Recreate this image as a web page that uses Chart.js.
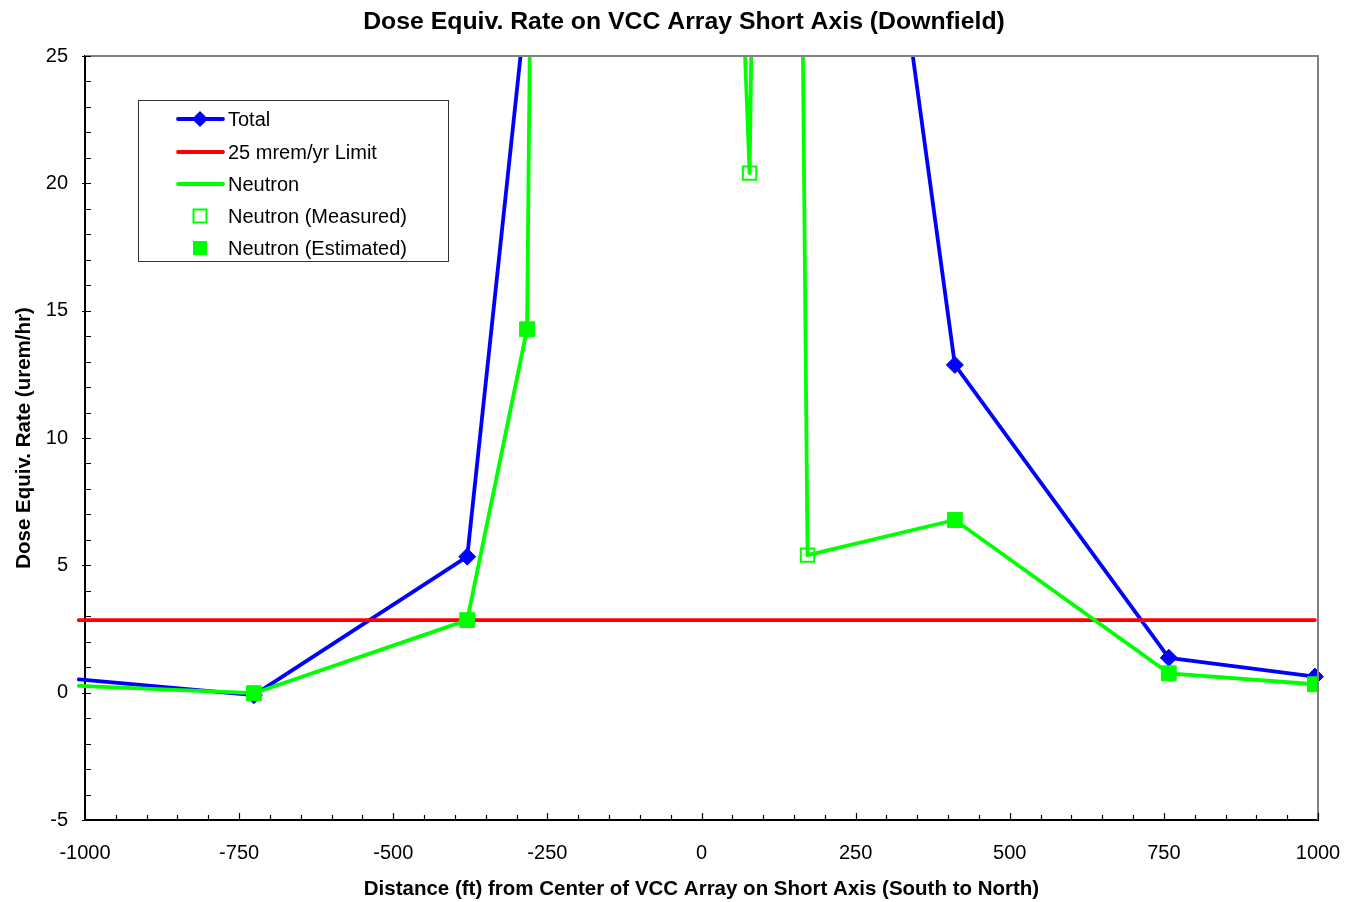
<!DOCTYPE html>
<html>
<head>
<meta charset="utf-8">
<title>Dose Equiv. Rate on VCC Array Short Axis (Downfield)</title>
<script src="https://cdn.jsdelivr.net/npm/chart.js@4.4.1/dist/chart.umd.min.js"></script>
<style>
  html, body { margin: 0; padding: 0; background: #fff; }
  canvas { display: block; }
</style>
</head>
<body>
<canvas id="chart" width="1345" height="902"></canvas>
<script>
// Distance from the array centre along the short axis (ft), south to north,
// and dose-equivalent rates (urem/hr). Points beyond 25 run off the top of the plot.
const totalX    = [-1010, -726, -380, -283, -250, 0, 250, 411, 758, 995];
const totalRate = [0.52, -0.10, 5.34, 27.4, 180, 400, 41.5, 12.87, 1.37, 0.63];

const neutronX    = [-1010, -726, -380, -283, -250, 50, 78, 100, 150, 172, 411, 758, 995];
const neutronRate = [0.27, -0.02, 2.85, 14.27, 95, 38, 20.4, 58, 63, 5.4, 6.78, 0.76, 0.33];

const measuredX    = [78, 172];
const measuredRate = [20.4, 5.4];

const estimatedX    = [-726, -380, -283, 411, 758, 995];
const estimatedRate = [-0.02, 2.85, 14.27, 6.78, 0.76, 0.33];

// 25 mrem/yr limit expressed in urem/hr
const limitX    = [-1010, 995];
const limitRate = [2.85, 2.85];

const xTickValues = [-1000, -750, -500, -250, 0, 250, 500, 750, 1000];
const yTickValues = [-5, 0, 5, 10, 15, 20, 25];

const chartTitle = 'Dose Equiv. Rate on VCC Array Short Axis (Downfield)';
const seriesNames = ['Total', '25 mrem/yr Limit', 'Neutron', 'Neutron (Measured)', 'Neutron (Estimated)'];

const FONT = "'Liberation Sans', Arial, sans-serif";
const BLUE = '#0000FF', RED = '#FF0000', GREEN = '#00FF00';

const pairs = (xs, ys) => xs.map((x, i) => ({ x: x, y: ys[i] }));
const edgeClip = { left: 8, top: 0, right: 8, bottom: 0 };

// Heading centred above the plot
const heading = {
  id: 'heading',
  afterDraw(chart) {
    const { ctx } = chart;
    ctx.save();
    ctx.fillStyle = '#000';
    ctx.font = 'bold 24.8px ' + FONT;
    ctx.textAlign = 'center';
    ctx.textBaseline = 'middle';
    ctx.fillText(chartTitle, 684, 22);
    ctx.restore();
  }
};

// Inside tick marks (minor every 1 unit / 50 ft) plus grey top and right frame
const frameAndTicks = {
  id: 'frameAndTicks',
  afterDatasetsDraw(chart) {
    const { ctx, chartArea: a, scales: { x, y } } = chart;
    ctx.save();
    ctx.strokeStyle = '#808080';
    ctx.lineWidth = 2;
    ctx.beginPath();
    ctx.moveTo(a.left, a.top);
    ctx.lineTo(a.right, a.top);
    ctx.lineTo(a.right, a.bottom);
    ctx.stroke();

    ctx.strokeStyle = '#000';
    ctx.lineWidth = 1.2;
    ctx.beginPath();
    for (let v = y.min; v <= y.max; v += 1) {
      const py = Math.round(y.getPixelForValue(v)) + 0.5;
      const major = v % 5 === 0;
      ctx.moveTo(a.left - (major ? 3 : 0), py);
      ctx.lineTo(a.left + 6, py);
    }
    for (let v = x.min; v <= x.max; v += 50) {
      const px = Math.round(x.getPixelForValue(v)) + 0.5;
      const major = v % 250 === 0;
      ctx.moveTo(px, a.bottom);
      ctx.lineTo(px, a.bottom - (major ? 7 : 5));
    }
    ctx.stroke();
    ctx.restore();
  }
};

// Boxed legend inside the plot, upper left
const boxedLegend = {
  id: 'boxedLegend',
  afterDraw(chart) {
    const { ctx } = chart;
    const box = { x: 138.5, y: 100.5, w: 310, h: 161 };
    const rowY = [119, 152, 184, 216, 248];
    const lineL = 178, lineR = 223, mark = 200, textX = 228;
    ctx.save();
    ctx.fillStyle = '#fff';
    ctx.fillRect(box.x, box.y, box.w, box.h);
    ctx.strokeStyle = '#333';
    ctx.lineWidth = 1;
    ctx.strokeRect(box.x, box.y, box.w, box.h);

    chart.data.datasets.forEach((d, i) => {
      const yy = rowY[i];
      if (d.showLine !== false) {
        ctx.strokeStyle = d.borderColor;
        ctx.lineWidth = d.borderWidth;
        ctx.lineCap = 'round';
        ctx.beginPath();
        ctx.moveTo(lineL, yy);
        ctx.lineTo(lineR, yy);
        ctx.stroke();
      }
      if (d.legendMarker === 'diamond') {
        ctx.fillStyle = d.pointBackgroundColor;
        ctx.beginPath();
        ctx.moveTo(mark, yy - 8);
        ctx.lineTo(mark + 8, yy);
        ctx.lineTo(mark, yy + 8);
        ctx.lineTo(mark - 8, yy);
        ctx.closePath();
        ctx.fill();
      } else if (d.legendMarker === 'open') {
        ctx.strokeStyle = d.pointBorderColor;
        ctx.lineWidth = 2;
        ctx.strokeRect(mark - 6.5, yy - 6.5, 13, 13);
      } else if (d.legendMarker === 'filled') {
        ctx.fillStyle = d.pointBackgroundColor;
        ctx.fillRect(mark - 7, yy - 7, 14, 14);
      }
      ctx.fillStyle = '#000';
      ctx.font = '20px ' + FONT;
      ctx.textAlign = 'left';
      ctx.textBaseline = 'middle';
      ctx.fillText(d.label, textX, yy + 1);
    });
    ctx.restore();
  }
};

new Chart(document.getElementById('chart'), {
  type: 'scatter',
  data: {
    datasets: [
      {
        label: seriesNames[0],
        data: pairs(totalX, totalRate),
        showLine: true,
        borderColor: BLUE,
        borderWidth: 3.8,
        pointStyle: 'rectRot',
        pointRadius: c => (c.raw && c.raw.x < xTickValues[0] ? 0 : 8.5),
        pointBackgroundColor: BLUE,
        pointBorderColor: BLUE,
        pointBorderWidth: 1,
        legendMarker: 'diamond',
        clip: edgeClip,
        order: 5
      },
      {
        label: seriesNames[1],
        data: pairs(limitX, limitRate),
        showLine: true,
        borderColor: RED,
        borderWidth: 3.8,
        pointRadius: 0,
        clip: edgeClip,
        order: 4
      },
      {
        label: seriesNames[2],
        data: pairs(neutronX, neutronRate),
        showLine: true,
        borderColor: GREEN,
        borderWidth: 3.8,
        pointRadius: 0,
        clip: edgeClip,
        order: 3
      },
      {
        label: seriesNames[3],
        data: pairs(measuredX, measuredRate),
        showLine: false,
        pointStyle: 'rect',
        pointRadius: 9.5,
        pointBackgroundColor: 'rgba(0,0,0,0)',
        pointBorderColor: GREEN,
        pointBorderWidth: 2,
        legendMarker: 'open',
        order: 2
      },
      {
        label: seriesNames[4],
        data: pairs(estimatedX, estimatedRate),
        showLine: false,
        pointStyle: 'rect',
        pointRadius: 10.5,
        pointBackgroundColor: GREEN,
        pointBorderColor: GREEN,
        pointBorderWidth: 1,
        legendMarker: 'filled',
        order: 1
      }
    ]
  },
  options: {
    responsive: false,
    animation: false,
    devicePixelRatio: 1,
    events: [],
    layout: { padding: { left: 0, right: 27, top: 56, bottom: 0 } },
    elements: { line: { tension: 0, borderJoinStyle: 'round', borderCapStyle: 'round' } },
    plugins: {
      legend: { display: false },
      tooltip: { enabled: false },
      title: { display: false }
    },
    scales: {
      x: {
        type: 'linear',
        min: xTickValues[0],
        max: xTickValues[xTickValues.length - 1],
        afterBuildTicks: s => { s.ticks = xTickValues.map(v => ({ value: v })); },
        afterFit: s => { s.height = 82; s.paddingLeft = 0; s.paddingRight = 0; },
        grid: { display: false, drawTicks: false },
        border: { display: true, color: '#000', width: 2 },
        ticks: {
          color: '#000',
          font: { family: FONT, size: 20 },
          padding: 21,
          maxRotation: 0,
          autoSkip: false,
          callback: v => String(v)
        },
        title: {
          display: true,
          text: 'Distance (ft) from Center of VCC Array on Short Axis (South to North)',
          color: '#000',
          font: { family: FONT, size: 20.5, weight: 'bold' },
          padding: { top: 0, bottom: 0 }
        }
      },
      y: {
        type: 'linear',
        min: yTickValues[0],
        max: yTickValues[yTickValues.length - 1],
        afterBuildTicks: s => { s.ticks = yTickValues.map(v => ({ value: v })); },
        afterFit: s => { s.width = 85; s.paddingTop = 0; s.paddingBottom = 0; },
        grid: { display: false, drawTicks: false },
        border: { display: true, color: '#000', width: 2 },
        ticks: {
          color: '#000',
          font: { family: FONT, size: 20 },
          padding: 17,
          autoSkip: false,
          callback: v => String(v)
        },
        title: {
          display: true,
          text: 'Dose Equiv. Rate (urem/hr)',
          color: '#000',
          font: { family: FONT, size: 20.5, weight: 'bold' },
          padding: { top: 12, bottom: 0 }
        }
      }
    }
  },
  plugins: [frameAndTicks, boxedLegend, heading]
});
</script>
</body>
</html>
